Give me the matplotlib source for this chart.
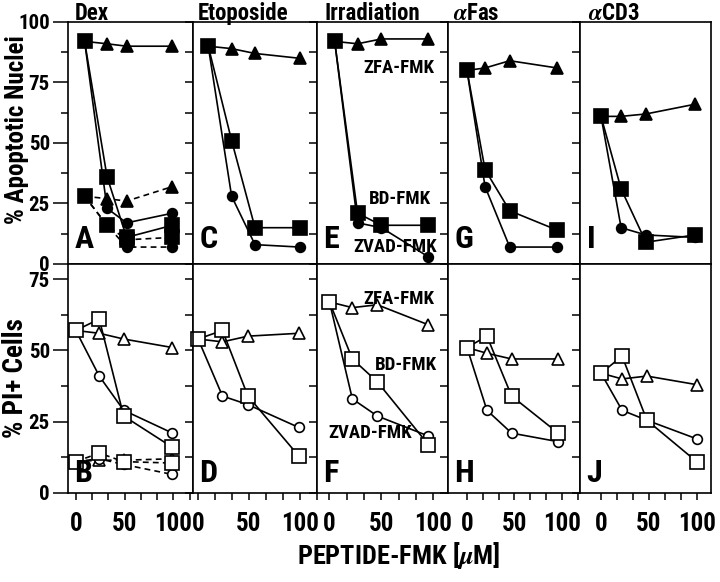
import matplotlib
matplotlib.use('Agg')
import matplotlib.pyplot as plt
from matplotlib import font_manager
from matplotlib.ticker import MultipleLocator, FixedLocator, NullLocator


# look for a narrow / condensed bold face; the figure uses a condensed sans
def pick_font():
    entries = font_manager.fontManager.ttflist
    pref = ['Liberation Sans Narrow', 'Roboto Condensed', 'Open Sans Condensed',
            'Noto Sans Condensed', 'DejaVu Sans Condensed', 'Arial Narrow']
    for name in pref:
        for f in entries:
            if f.name == name and 'bold' in f.fname.lower() and 'italic' not in f.fname.lower():
                return f
    for f in entries:
        fn = f.fname.lower()
        if ('condensed' in fn or 'narrow' in fn) and 'bold' in fn \
                and not any(k in fn for k in ('italic', 'oblique', 'semibold', 'extrabold', 'semi', 'extra', 'ultra')):
            return f
    return None


fe = pick_font()
if fe is not None:
    plt.rcParams['font.family'] = [fe.name, 'DejaVu Sans']
    plt.rcParams['font.stretch'] = fe.stretch
    plt.rcParams['font.weight'] = fe.weight
    scale = 1.0
else:
    plt.rcParams['font.family'] = ['DejaVu Sans']
    plt.rcParams['font.weight'] = 'bold'
    scale = 0.82
plt.rcParams['mathtext.fontset'] = 'stix'

# ---- top row: % apoptotic nuclei (filled symbols) ----
dex_x = [9, 32, 52, 99]
dex_zfa = [92, 91, 90, 90]
dex_bd = [92, 36, 11, 16]
dex_zvad = [92, 23, 17, 21]
# dashed series in panel A
dex_zfa_ctl = [28, 27, 26, 32]
dex_bd_ctl = [28, 16, 10, 11]
dex_zvad_ctl = [28, 16, 7, 7]

eto_x = [10, 33, 56, 100]
eto_zfa = [90, 89, 87, 85]
eto_bd = [90, 51, 15, 15]
eto_zvad = [90, 28, 8, 7]

irr_x = [5, 27, 50, 95]
irr_zfa = [92, 91, 93, 93]
irr_bd = [92, 21, 16, 16]
irr_zvad = [92, 17, 15, 3]

fas_x = [0, 19, 45, 95]
fas_zfa = [80, 81, 84, 81]
fas_bd = [80, 39, 22, 14]
fas_zvad = [80, 32, 7, 7]

cd3_x = [0, 21, 47, 98]
cd3_zfa = [61, 61, 62, 66]
cd3_bd = [61, 31, 9, 12]
cd3_zvad = [61, 15, 12, 11]

# ---- bottom row: % PI+ cells (open symbols) ----
b_x = [0, 24, 49, 99]
b_zfa = [57, 56, 54, 51]
b_bd = [57, 61, 27, 16]
b_zvad = [57, 41, 29, 21]
# dashed series in panel B
b_zfa_ctl = [11, 11.5, 11.5, 12]
b_bd_ctl = [11, 14, 11, 10.5]
b_zvad_ctl = [11, 12, 10, 6.5]

d_x = [0, 24, 49, 99]
d_zfa = [54, 53, 55, 56]
d_bd = [54, 57, 34, 13]
d_zvad = [54, 34, 31, 23]

f_x = [0, 22, 46, 95]
f_zfa = [67, 65, 66, 59]
f_bd = [67, 47, 39, 17]
f_zvad = [67, 33, 27, 20]

h_x = [0, 21, 47, 96]
h_zfa = [51, 49, 47, 47]
h_bd = [51, 55, 34, 21]
h_zvad = [51, 29, 21, 18]

j_x = [0, 22, 48, 100]
j_zfa = [42, 40, 41, 38]
j_bd = [42, 48, 25.5, 11]
j_zvad = [42, 29, 25.5, 19]

titles = ['Dex', 'Etoposide', 'Irradiation', r'$\alpha$Fas', r'$\alpha$CD3']
title_dx = [0.056, 0.04, 0.06, 0.04, 0.06]
top_letters = ['A', 'C', 'E', 'G', 'I']
bottom_letters = ['B', 'D', 'F', 'H', 'J']

top_data = [(dex_x, dex_zfa, dex_bd, dex_zvad),
            (eto_x, eto_zfa, eto_bd, eto_zvad),
            (irr_x, irr_zfa, irr_bd, irr_zvad),
            (fas_x, fas_zfa, fas_bd, fas_zvad),
            (cd3_x, cd3_zfa, cd3_bd, cd3_zvad)]
bottom_data = [(b_x, b_zfa, b_bd, b_zvad),
               (d_x, d_zfa, d_bd, d_zvad),
               (f_x, f_zfa, f_bd, f_zvad),
               (h_x, h_zfa, h_bd, h_zvad),
               (j_x, j_zfa, j_bd, j_zvad)]

W, H = 720, 582
edges = [68, 193, 317, 448, 580, 711]
xlims = [(-8, 120), (-5, 117), (-12, 114), (-20, 119), (-22, 115)]
top_px = (22, 264)
bot_px = (264, 493)

fig = plt.figure(figsize=(W / 100, H / 100), dpi=100)


def draw(ax, x, zfa, bd, zvad, filled, ls='-'):
    fc = 'black' if filled else 'white'
    kw = dict(color='black', lw=1.2, mec='black', mfc=fc, mew=1.2, ls=ls)
    if ls == '--':
        kw['dashes'] = (3.5, 2.5)
    ax.plot(x, zfa, marker='^', ms=8, **kw)
    ax.plot(x, zvad, marker='o', ms=7, **kw)
    ax.plot(x, bd, marker='s', ms=9.5 if filled else 10, **kw)


for i in range(5):
    left = edges[i] / W
    width = (edges[i + 1] - edges[i]) / W
    ax_t = fig.add_axes([left, 1 - top_px[1] / H, width, (top_px[1] - top_px[0]) / H])
    ax_b = fig.add_axes([left, 1 - bot_px[1] / H, width, (bot_px[1] - bot_px[0]) / H])

    x, zfa, bd, zvad = top_data[i]
    if i == 0:
        draw(ax_t, x, dex_zfa_ctl, dex_bd_ctl, dex_zvad_ctl, True, '--')
    draw(ax_t, x, zfa, bd, zvad, True)

    x, zfa, bd, zvad = bottom_data[i]
    if i == 0:
        draw(ax_b, x, b_zfa_ctl, b_bd_ctl, b_zvad_ctl, False, '--')
    draw(ax_b, x, zfa, bd, zvad, False)

    ax_t.set_xlim(*xlims[i])
    ax_b.set_xlim(*xlims[i])
    ax_t.set_ylim(0, 100)
    ax_b.set_ylim(0, 80.3)

    for ax in (ax_t, ax_b):
        for ln in ax.lines:
            ln.set_clip_on(False)
        for s in ax.spines.values():
            s.set_linewidth(1.2)
        ax.tick_params(axis='y', which='both', direction='out', width=1.1,
                       right=False, labelsize=15 * scale, pad=2)

    ax_t.xaxis.set_major_locator(NullLocator())
    ax_b.xaxis.set_major_locator(FixedLocator([0, 50, 100]))
    ax_b.xaxis.set_minor_locator(FixedLocator([100 / 6 * k for k in range(8)]))
    ax_b.tick_params(axis='x', which='both', direction='out', length=5, width=1.1,
                     labelsize=18 * scale, pad=9)

    ax_t.yaxis.set_major_locator(MultipleLocator(25))
    ax_t.yaxis.set_minor_locator(MultipleLocator(12.5))
    ax_b.yaxis.set_major_locator(FixedLocator([0, 25, 50, 75]))
    ax_b.yaxis.set_minor_locator(MultipleLocator(12.5))

    if i == 0:
        for ax in (ax_t, ax_b):
            ax.tick_params(axis='y', which='major', length=11)
            ax.tick_params(axis='y', which='minor', length=5)
    else:
        for ax in (ax_t, ax_b):
            ax.tick_params(axis='y', which='both', length=6, labelleft=False)

    ax_t.text(title_dx[i], 1.008, titles[i], transform=ax_t.transAxes,
              ha='left', va='baseline', fontsize=16.5 * scale)
    ax_t.text(0.05, 0.04, top_letters[i], transform=ax_t.transAxes,
              ha='left', va='bottom', fontsize=23 * scale)
    ax_b.text(0.05, 0.02, bottom_letters[i], transform=ax_b.transAxes,
              ha='left', va='bottom', fontsize=23 * scale)

    if i == 2:
        fs = 13.5 * scale
        ax_t.text(101, 81, 'ZFA-FMK', ha='right', va='center', fontsize=fs)
        ax_t.text(98, 27, 'BD-FMK', ha='right', va='center', fontsize=fs)
        ax_t.text(103, 7, 'ZVAD-FMK', ha='right', va='center', fontsize=fs)
        ax_b.text(101, 68, 'ZFA-FMK', ha='right', va='center', fontsize=fs)
        ax_b.text(103, 45, 'BD-FMK', ha='right', va='center', fontsize=fs)
        ax_b.text(79, 21, 'ZVAD-FMK', ha='right', va='center', fontsize=fs)

fig.text(0.024, 0.777, '% Apoptotic Nuclei', rotation=90, ha='center', va='center', fontsize=18 * scale)
fig.text(0.022, 0.35, '% PI+ Cells', rotation=90, ha='center', va='center', fontsize=19.5 * scale)
fig.text(0.554, 0.046, r'PEPTIDE-FMK [$\mu$M]', ha='center', va='center', fontsize=19 * scale)

fig.savefig('out.png', dpi=100)
